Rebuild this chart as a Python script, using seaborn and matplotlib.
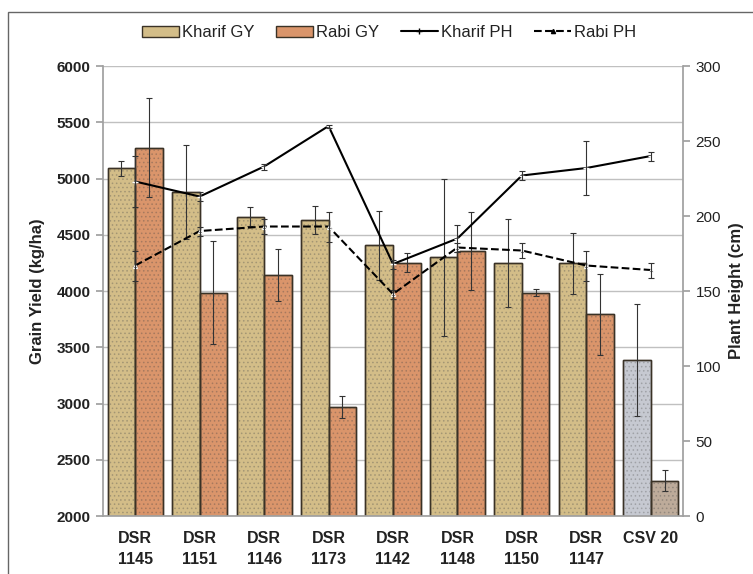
"""
Grain yield (bars) and plant height (lines) of sorghum genotypes,
kharif vs rabi season.
"""

import matplotlib.pyplot as plt
import matplotlib.patches as mpatches
from matplotlib.lines import Line2D
import numpy as np
import pandas as pd
import seaborn as sns

# values
genotypes = ["DSR\n1145", "DSR\n1151", "DSR\n1146", "DSR\n1173", "DSR\n1142",
             "DSR\n1148", "DSR\n1150", "DSR\n1147", "CSV 20"]
kharif_gy = [5090, 4880, 4660, 4630, 4405, 4300, 4250, 4245, 3385]
kharif_gy_err = [70, 420, 85, 125, 310, 700, 390, 270, 500]
rabi_gy = [5275, 3985, 4145, 2970, 4250, 4355, 3985, 3795, 2315]
rabi_gy_err = [440, 460, 230, 100, 85, 350, 30, 360, 95]
kharif_ph = [223, 213, 233, 260, 168, 185, 227, 232, 240]
kharif_ph_err = [17, 3, 2, 1, 3, 9, 3, 18, 3]
rabi_ph = [167, 190, 193, 193, 148, 179, 177, 167, 164]
rabi_ph_err = [10, 3, 5, 10, 3, 3, 5, 10, 5]
gy_ticks = list(range(2000, 6001, 500))
ph_ticks = list(range(0, 301, 50))

KH_COLOR = "#d3bd88"
RB_COLOR = "#da956b"
CHECK_KH = "#c6c9d1"
CHECK_RB = "#bdab9a"
EDGE = "#3a3226"
GRID = "#c0c0c0"
TEXT = "#222222"

sns.set_theme(style="white")
plt.rcParams["font.family"] = ["Liberation Sans", "DejaVu Sans"]
plt.rcParams["hatch.linewidth"] = 0.6

df = pd.DataFrame({
    "Genotype": genotypes * 2,
    "Season": ["Kharif GY"] * len(genotypes) + ["Rabi GY"] * len(genotypes),
    "GY": kharif_gy + rabi_gy,
})

fig = plt.figure(figsize=(7.53, 5.74), dpi=100)
ax = fig.add_axes([0.1368, 0.101, 0.7702, 0.784])

sns.barplot(data=df, x="Genotype", y="GY", hue="Season",
            palette=[KH_COLOR, RB_COLOR], width=0.855, saturation=1,
            edgecolor=EDGE, linewidth=1.0, legend=False, ax=ax)

# the check variety has its own colours
ax.containers[0][8].set_facecolor(CHECK_KH)
ax.containers[1][8].set_facecolor(CHECK_RB)

# faint grainy texture on the bars, like the original fill pictures
for cont in ax.containers[:2]:
    for p in cont:
        tex = sns.desaturate(p.get_facecolor(), 0.8)
        tex = tuple(c * 0.8 for c in tex[:3])
        ax.add_patch(mpatches.Rectangle(
            (p.get_x(), p.get_y()), p.get_width(), p.get_height(),
            facecolor="none", edgecolor=tex, lw=0, hatch="....",
            zorder=p.get_zorder() + 0.1))
        p.set_zorder(p.get_zorder())
    for p in cont:
        ax.add_patch(mpatches.Rectangle(
            (p.get_x(), p.get_y()), p.get_width(), p.get_height(),
            facecolor="none", edgecolor=EDGE, lw=1.0,
            zorder=p.get_zorder() + 0.2))

# error bars on the bars
for cont, err in zip(ax.containers[:2], [kharif_gy_err, rabi_gy_err]):
    xs = [p.get_x() + p.get_width() / 2 for p in cont]
    hs = [p.get_height() for p in cont]
    ax.errorbar(xs, hs, yerr=err, fmt="none", ecolor="#333333",
                elinewidth=0.8, capsize=2.5, capthick=0.8, zorder=5)

ax.set_ylim(2000, 6000)
ax.set_yticks(gy_ticks, labels=[str(v) for v in gy_ticks],
              fontweight="bold", fontsize=11, color=TEXT)
ax.yaxis.grid(True, color=GRID, lw=1)
ax.set_axisbelow(True)
ax.set_xticks(range(len(genotypes)), labels=genotypes,
              fontweight="bold", fontsize=11.5, color=TEXT)
for t in ax.get_xticklabels():
    t.set_linespacing(1.45)
ax.set_xticks(np.arange(-0.5, len(genotypes)), minor=True)
ax.tick_params(axis="x", which="major", length=0, pad=11)
ax.tick_params(axis="x", which="minor", length=5, color="#a0a0a0")
ax.tick_params(axis="y", left=True, length=5, color="#a0a0a0", pad=4)
ax.set_xlabel("")
ax.set_ylabel("Grain Yield (kg/ha)", fontsize=12, fontweight="bold",
              color=TEXT, labelpad=8)
for side in ["top", "right"]:
    ax.spines[side].set_visible(False)
for side in ["left", "bottom"]:
    ax.spines[side].set_color("#a0a0a0")

# plant height on the secondary axis
ax2 = ax.twinx()
xpos = np.arange(len(genotypes))
sns.lineplot(x=xpos, y=kharif_ph, ax=ax2, color="black", lw=1.5,
             marker="+", markersize=5, markeredgewidth=1)
sns.lineplot(x=xpos, y=rabi_ph, ax=ax2, color="black", lw=1.5,
             linestyle="--", marker="^", markersize=3)
ax2.errorbar(xpos, kharif_ph, yerr=kharif_ph_err, fmt="none",
             ecolor="#333333", elinewidth=0.8, capsize=2.5, capthick=0.8)
ax2.errorbar(xpos, rabi_ph, yerr=rabi_ph_err, fmt="none",
             ecolor="#333333", elinewidth=0.8, capsize=2.5, capthick=0.8)
ax2.set_ylim(0, 300)
ax2.set_yticks(ph_ticks, labels=[str(v) for v in ph_ticks],
               fontsize=11, color=TEXT)
ax2.tick_params(axis="y", right=True, length=5, color="#a0a0a0", pad=4)
ax2.set_ylabel("Plant Height (cm)", fontsize=12, fontweight="bold",
               color=TEXT, labelpad=6)
for side in ["top", "left", "bottom"]:
    ax2.spines[side].set_visible(False)
ax2.spines["right"].set_color("#a0a0a0")
ax.set_xlim(-0.5, len(genotypes) - 0.5)

handles = [
    mpatches.Patch(facecolor=KH_COLOR, edgecolor=EDGE, label="Kharif GY"),
    mpatches.Patch(facecolor=RB_COLOR, edgecolor=EDGE, label="Rabi GY"),
    Line2D([0], [0], color="black", lw=1.5, marker="+", markersize=5,
           label="Kharif PH"),
    Line2D([0], [0], color="black", lw=1.5, linestyle="--", marker="^",
           markersize=3, label="Rabi PH"),
]
fig.legend(handles=handles, loc="center", bbox_to_anchor=(0.517, 0.943),
           ncol=4, frameon=False, fontsize=12, handlelength=2.2,
           handletextpad=0.2, columnspacing=1.3, labelcolor=TEXT)

# outer chart-area border (cut off at right and bottom in the reference)
fig.add_artist(mpatches.Rectangle((8 / 753, -0.5), 2, 1.5 - 12 / 574,
                                  transform=fig.transFigure, fill=False,
                                  edgecolor="#666666", lw=1))

fig.savefig("out.png", dpi=100)
